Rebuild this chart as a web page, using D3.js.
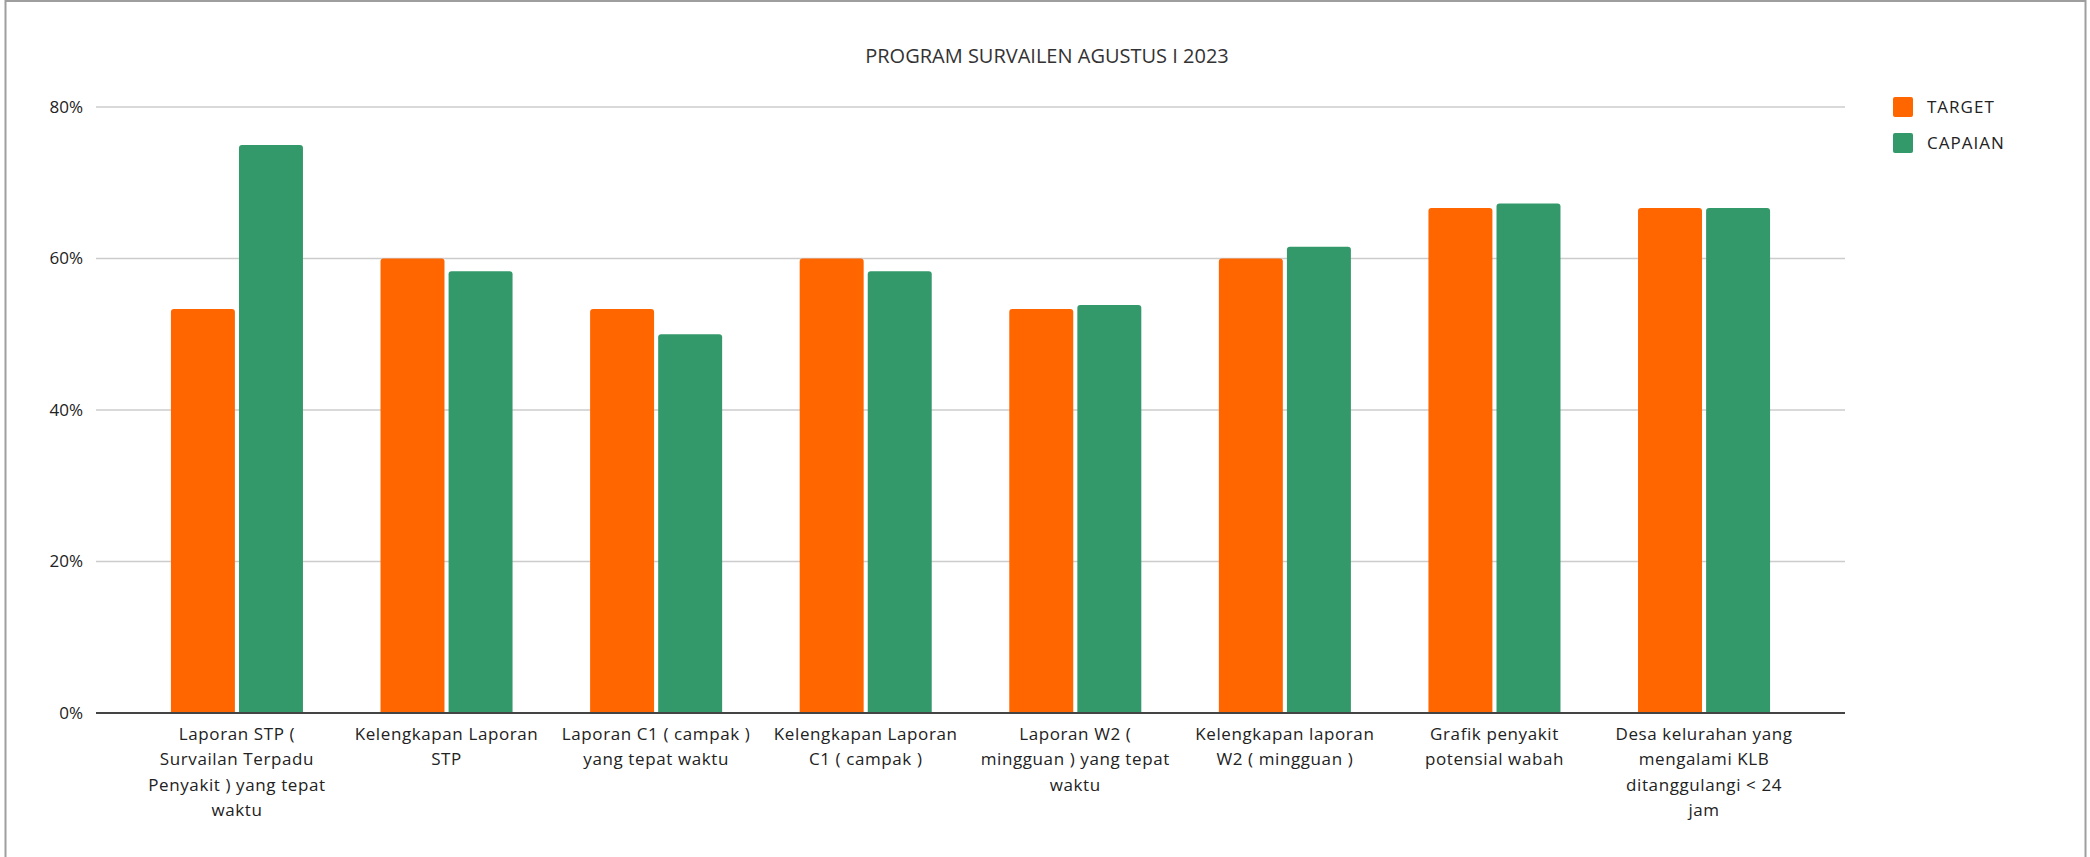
<!DOCTYPE html>
<html>
<head>
<meta charset="utf-8">
<script src="https://cdn.jsdelivr.net/npm/d3@7"></script>
<style>
  body { margin: 0; background: #fff; }
  text { font-family: "Open Sans", sans-serif; }
</style>
</head>
<body>
<div id="chart"></div>
<script>
// chart data
const categories = [
  'Laporan STP ( Survailan Terpadu Penyakit ) yang tepat waktu',
  'Kelengkapan Laporan STP',
  'Laporan C1 ( campak ) yang tepat waktu',
  'Kelengkapan Laporan C1 ( campak )',
  'Laporan W2 ( mingguan ) yang tepat waktu',
  'Kelengkapan laporan W2 ( mingguan )',
  'Grafik penyakit potensial wabah',
  'Desa kelurahan yang mengalami KLB ditanggulangi < 24 jam'
];
// wrapped tick labels, same order as categories
const tickLines = [
  ['Laporan STP (', 'Survailan Terpadu', 'Penyakit ) yang tepat', 'waktu'],
  ['Kelengkapan Laporan', 'STP'],
  ['Laporan C1 ( campak )', 'yang tepat waktu'],
  ['Kelengkapan Laporan', 'C1 ( campak )'],
  ['Laporan W2 (', 'mingguan ) yang tepat', 'waktu'],
  ['Kelengkapan laporan', 'W2 ( mingguan )'],
  ['Grafik penyakit', 'potensial wabah'],
  ['Desa kelurahan yang', 'mengalami KLB', 'ditanggulangi < 24', 'jam']
];
const seriesNames = ['TARGET', 'CAPAIAN'];
const target  = [0.5333, 0.60, 0.5333, 0.60, 0.5333, 0.60, 0.6667, 0.6667];
const capaian = [0.75, 0.5833, 0.50, 0.5833, 0.5385, 0.6154, 0.6725, 0.6667];
const yTicks = [0, 0.2, 0.4, 0.6, 0.8];
const title = 'PROGRAM SURVAILEN AGUSTUS I 2023';

const colors = { 'TARGET': '#FF6600', 'CAPAIAN': '#34996A' };

const W = 2090, H = 857;
const margin = { top: 107, right: 245, bottom: 144, left: 96 };

const svg = d3.select('#chart').append('svg')
  .attr('width', W)
  .attr('height', H);

// outer frame
svg.append('rect')
  .attr('x', 5.5).attr('y', 1)
  .attr('width', 2080).attr('height', H + 10)
  .attr('fill', 'none')
  .attr('stroke', '#9e9e9e')
  .attr('stroke-width', 2);

const x0 = d3.scaleBand()
  .domain(categories)
  .range([margin.left, W - margin.right])
  .paddingInner(0.37)
  .paddingOuter(0.3575);

const x1 = d3.scaleBand()
  .domain(seriesNames)
  .range([0, x0.bandwidth()])
  .paddingInner(0.06);

const y = d3.scaleLinear()
  .domain([0, 0.8])
  .range([H - margin.bottom, margin.top]);

// gridlines
svg.append('g')
  .selectAll('line')
  .data(yTicks.filter(d => d > 0))
  .join('line')
  .attr('x1', margin.left)
  .attr('x2', W - margin.right)
  .attr('y1', d => y(d))
  .attr('y2', d => y(d))
  .attr('stroke', '#cccccc')
  .attr('stroke-width', 1.5);

// y axis labels
const yAxis = svg.append('g')
  .attr('transform', `translate(${margin.left},0)`)
  .call(d3.axisLeft(y).tickValues(yTicks).tickFormat(d3.format('.0%')).tickSize(0).tickPadding(13));
yAxis.select('.domain').remove();
yAxis.selectAll('text')
  .attr('font-family', '"Open Sans", sans-serif')
  .attr('font-size', 17)
  .attr('fill', '#222');

// bars with rounded tops
const rows = categories.map((c, i) => ({ cat: c, values: [
  { key: 'TARGET', value: target[i] },
  { key: 'CAPAIAN', value: capaian[i] }
] }));

const topRounded = (bx, by, bw, bh, r) => {
  return `M${bx},${by + bh}V${by + r}Q${bx},${by} ${bx + r},${by}` +
    `H${bx + bw - r}Q${bx + bw},${by} ${bx + bw},${by + r}V${by + bh}Z`;
};

svg.append('g')
  .selectAll('g')
  .data(rows)
  .join('g')
  .attr('transform', d => `translate(${x0(d.cat)},0)`)
  .selectAll('path')
  .data(d => d.values)
  .join('path')
  .attr('fill', d => colors[d.key])
  .attr('d', d => topRounded(x1(d.key), y(d.value), x1.bandwidth(), y(0) - y(d.value), 3));

// baseline
svg.append('line')
  .attr('x1', margin.left)
  .attr('x2', W - margin.right)
  .attr('y1', y(0))
  .attr('y2', y(0))
  .attr('stroke', '#444')
  .attr('stroke-width', 2);

// category labels
const labelGroup = svg.append('g');
categories.forEach((c, i) => {
  const t = labelGroup.append('text')
    .attr('text-anchor', 'middle')
    .attr('font-size', 17)
    .attr('letter-spacing', 0.6)
    .attr('fill', '#222')
    .attr('x', x0(c) + x0.bandwidth() / 2)
    .attr('y', y(0) + 27);
  tickLines[i].forEach((line, j) => {
    t.append('tspan')
      .attr('x', x0(c) + x0.bandwidth() / 2)
      .attr('dy', j === 0 ? 0 : 25.3)
      .text(line);
  });
});

// title
svg.append('text')
  .attr('x', 1047)
  .attr('y', 63)
  .attr('text-anchor', 'middle')
  .attr('font-size', 20)
  .attr('fill', '#333')
  .text(title);

// legend
const legend = svg.append('g').attr('transform', 'translate(1893, 97)');
seriesNames.forEach((name, i) => {
  legend.append('rect')
    .attr('x', 0)
    .attr('y', i * 36)
    .attr('width', 20)
    .attr('height', 20)
    .attr('rx', 2)
    .attr('fill', colors[name]);
  legend.append('text')
    .attr('x', 34)
    .attr('y', i * 36 + 16)
    .attr('font-size', 17)
    .attr('letter-spacing', 1)
    .attr('fill', '#222')
    .text(name);
});
</script>
</body>
</html>
